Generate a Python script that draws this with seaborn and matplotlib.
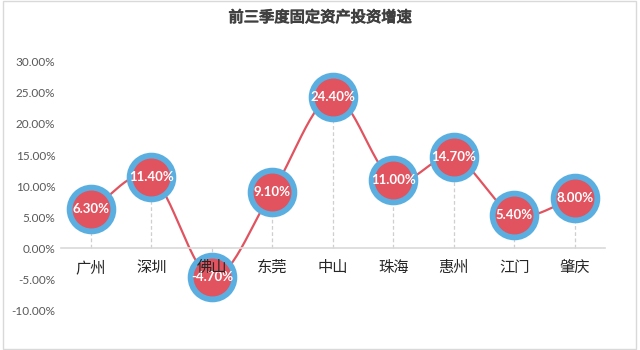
import numpy as np
import pandas as pd
import matplotlib
matplotlib.use("Agg")
import matplotlib.pyplot as plt
import matplotlib.patheffects as pe
import seaborn as sns
from matplotlib.patches import Rectangle

cities = ["广州", "深圳", "佛山", "东莞", "中山", "珠海", "惠州", "江门", "肇庆"]
growth = [6.3, 11.4, -4.7, 9.1, 24.4, 11.0, 14.7, 5.4, 8.0]
yticks = [-10, -5, 0, 5, 10, 15, 20, 25, 30]
title = "前三季度固定资产投资增速"

sns.set_theme(style="white")
plt.rcParams['font.family'] = ['Noto Sans CJK SC', 'DejaVu Sans']

df = pd.DataFrame({"city": cities, "growth": growth})
df["x"] = np.arange(len(cities))

fig = plt.figure(figsize=(6.4, 3.5), dpi=100)
fig.patch.set_facecolor("white")
fig.patches.append(Rectangle((0.004, 0.004), 0.99, 0.992, transform=fig.transFigure,
                             fill=False, edgecolor="#d9d9d9", linewidth=1.0))
ax = fig.add_axes([0.095, 0.114, 0.85, 0.709])

red = "#E0535F"
blue = "#5AAEE0"

# smooth curve (Catmull-Rom through the data points)
xs = df["x"].to_numpy(float)
ys = df["growth"].to_numpy(float)
px = np.concatenate([[2 * xs[0] - xs[1]], xs, [2 * xs[-1] - xs[-2]]])
py = np.concatenate([[2 * ys[0] - ys[1]], ys, [2 * ys[-1] - ys[-2]]])
cx, cy = [], []
t = np.linspace(0, 1, 30)
for i in range(1, len(px) - 2):
    for arr, out in ((px, cx), (py, cy)):
        p0, p1, p2, p3 = arr[i - 1], arr[i], arr[i + 1], arr[i + 2]
        out.extend(0.5 * ((2 * p1) + (-p0 + p2) * t + (2 * p0 - 5 * p1 + 4 * p2 - p3) * t ** 2
                          + (-p0 + 3 * p1 - 3 * p2 + p3) * t ** 3))
ax.plot(cx, cy, color=red, lw=1.6, zorder=2)

# drop lines
ax.vlines(df["x"], 0, df["growth"], colors="#cfcfcf", linestyles=(0, (3, 2)), lw=0.9, zorder=1)

sns.scatterplot(data=df, x="x", y="growth", ax=ax, s=31.5 ** 2, color=red,
                edgecolor=blue, linewidth=4.2, zorder=3, legend=False)

for xi, yi in zip(df["x"], df["growth"]):
    ax.text(xi, yi, f"{yi:.2f}%", ha="center", va="center", color="white",
            fontsize=9.5, fontweight="bold", zorder=6, family=['Lato', 'DejaVu Sans'])

bold_fx = [pe.withStroke(linewidth=0.7, foreground="#404040")]

ax.set_xlim(-0.5, len(cities) - 0.5)
ax.set_ylim(-10, 30)
ax.set_xticks(df["x"])
ax.set_xticklabels(cities, fontsize=9, color="#404040")
for lab in ax.get_xticklabels():
    lab.set_path_effects(bold_fx)
ax.set_yticks(yticks)
ax.set_yticklabels([f"{v:.2f}%" for v in yticks], fontsize=8.5, color="#595959",
                   family=['Lato', 'DejaVu Sans'])
ax.tick_params(axis="both", length=0, pad=4)
ax.tick_params(axis="x", pad=8)
ax.xaxis.set_zorder(10)
for s in ["left", "right", "top"]:
    ax.spines[s].set_visible(False)
ax.spines["bottom"].set_position(("data", 0))
ax.spines["bottom"].set_color("#d9d9d9")
ax.spines["bottom"].set_linewidth(1.2)
ax.set_xlabel("")
ax.set_ylabel("")
ax.grid(False)

fig.text(0.5, 0.95, title, ha="center", va="center", fontsize=11, color="#404040",
         path_effects=bold_fx)

fig.savefig("out.png", dpi=100, facecolor="white")
